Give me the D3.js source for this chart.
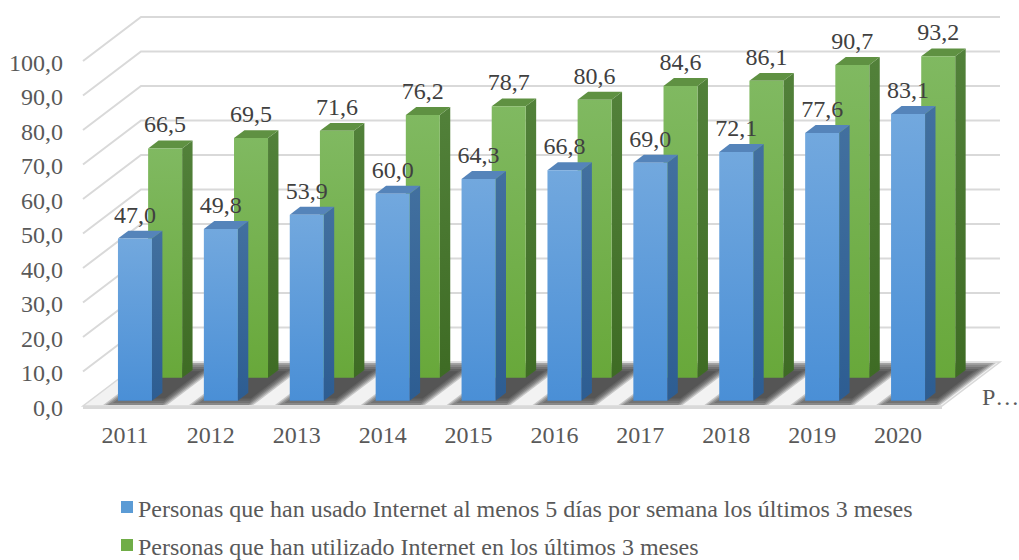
<!DOCTYPE html>
<html>
<head>
<meta charset="utf-8">
<script src="https://cdn.jsdelivr.net/npm/d3@7"></script>
<style>
  body { margin: 0; background: #fff; }
</style>
</head>
<body>
<svg id="chart" width="1019" height="560" viewBox="0 0 1019 560" font-family="Liberation Serif, DejaVu Serif, serif"></svg>
<script>
// chart data
const years = ["2011", "2012", "2013", "2014", "2015", "2016", "2017", "2018", "2019", "2020"];
const usado5dias = [47.0, 49.8, 53.9, 60.0, 64.3, 66.8, 69.0, 72.1, 77.6, 83.1];
const utilizado3meses = [66.5, 69.5, 71.6, 76.2, 78.7, 80.6, 84.6, 86.1, 90.7, 93.2];
const seriesNames = [
  "Personas que han usado Internet al menos 5 días por semana los últimos 3 meses",
  "Personas que han utilizado Internet en los últimos 3 meses"
];
const yTicks = [0, 10, 20, 30, 40, 50, 60, 70, 80, 90, 100];

const FONT = "'Liberation Serif', 'DejaVu Serif', serif";
const FS = 24;
const svg = d3.select("#chart");
const fmt = (v) => v.toFixed(1).replace(".", ",");

// front plane scales + oblique depth offset
const x = d3.scaleBand().domain(years).range([83, 942]);
const y = d3.scaleLinear().domain([0, 100]).range([406, 61]);
const DX = 58, DY = 44;
const P = (px, v, t) => [px + t * DX, y(v) - t * DY];

const series = [
  { name: seriesNames[0], values: usado5dias, t0: 0.12, t1: 0.30,
    front: ["#72a8de", "#4a8fd6"], side: ["#42709f", "#2d5d92"], top: "#5584ba", key: "#5b9bd5" },
  { name: seriesNames[1], values: utilizado3meses, t0: 0.64, t1: 0.82,
    front: ["#80b961", "#68a83a"], side: ["#52813a", "#3e6b24"], top: "#5f9142", key: "#70ad47" }
];
const barOff = 28, barW = 34;

const defs = svg.append("defs");
series.forEach((s, i) => {
  const gf = defs.append("linearGradient").attr("id", "front" + i)
    .attr("x1", 0).attr("y1", 0).attr("x2", 0).attr("y2", 1);
  gf.append("stop").attr("offset", "0%").attr("stop-color", s.front[0]);
  gf.append("stop").attr("offset", "100%").attr("stop-color", s.front[1]);
  const gs = defs.append("linearGradient").attr("id", "side" + i)
    .attr("x1", 0).attr("y1", 0).attr("x2", 0).attr("y2", 1);
  gs.append("stop").attr("offset", "0%").attr("stop-color", s.side[0]);
  gs.append("stop").attr("offset", "100%").attr("stop-color", s.side[1]);
});

const poly = (pts) => "M" + pts.map((p) => p.join(",")).join("L") + "Z";

// walls: gridlines on back wall and left side wall
const grid = svg.append("g").attr("stroke", "#d9d9d9").attr("stroke-width", 2).attr("fill", "none");
const x0 = x.range()[0], x1 = x.range()[1];
yTicks.filter((v) => v > 0).forEach((v) => {
  const a = P(x0, v, 0), b = P(x0, v, 1), c = P(x1, v, 1);
  grid.append("path").attr("d", `M${a}L${b}L${c}`);
});

// floor plate
const fl = [P(x0, 0, 0), P(x1, 0, 0), P(x1, 0, 1), P(x0, 0, 1)];
svg.append("path")
  .attr("d", poly([fl[0], fl[1], [fl[1][0], fl[1][1] + 3], [fl[0][0], fl[0][1] + 3]]))
  .attr("fill", "#d9d9d9");
svg.append("path").attr("d", poly(fl)).attr("fill", "#f2f2f2").attr("stroke", "#d9d9d9").attr("stroke-width", 1.5);

// shadows cast on the floor: stacked translucent layers give a soft edge
const shadows = svg.append("g");
const layers = d3.range(6);
years.forEach((yr) => {
  layers.forEach((k) => {
    const e = 7 - k * 2.2;            // horizontal inset/outset in px
    const dt = (7 - k * 2.2) / DY;    // depth inset/outset
    const l = x(yr) + barOff - 2 - e, r = x(yr) + barOff + barW + 14 + e;
    const ta = Math.max(0.02, 0.08 - dt), tb = Math.min(0.98, 0.88 + dt);
    shadows.append("path")
      .attr("d", poly([P(l, 0, ta), P(r, 0, ta), P(r, 0, tb), P(l, 0, tb)]))
      .attr("fill", "#2b2b2b").attr("fill-opacity", 0.22);
  });
});

// bars: back row (green) first, then front row (blue)
[1, 0].forEach((si) => {
  const s = series[si];
  const g = svg.append("g");
  years.forEach((yr, i) => {
    const v = s.values[i];
    const l = x(yr) + barOff, r = l + barW;
    const fTL = P(l, v, s.t0), fTR = P(r, v, s.t0), fBR = P(r, 0, s.t0), fBL = P(l, 0, s.t0);
    const bTL = P(l, v, s.t1), bTR = P(r, v, s.t1), bBR = P(r, 0, s.t1);
    g.append("path").attr("d", poly([fTR, bTR, bBR, fBR])).attr("fill", `url(#side${si})`);
    g.append("path").attr("d", poly([fTL, fTR, bTR, bTL])).attr("fill", s.top);
    g.append("path").attr("d", poly([fTL, fTR, fBR, fBL])).attr("fill", `url(#front${si})`);
  });
});

// data labels
const labels = svg.append("g").attr("text-anchor", "middle");
series.forEach((s) => {
  years.forEach((yr, i) => {
    const v = s.values[i];
    const p = P(x(yr) + barOff + barW / 2, v, s.t0);
    labels.append("text").attr("x", p[0]).attr("y", p[1] - 16)
      .attr("font-family", FONT).attr("font-size", FS).attr("fill", "#404040").text(fmt(v));
  });
});

// value axis labels
svg.append("g").attr("text-anchor", "end")
  .selectAll("text").data(yTicks).join("text")
  .attr("font-family", FONT).attr("font-size", FS).attr("fill", "#595959")
  .attr("x", 63).attr("y", (d) => y(d) + 9.5).text(fmt);

// category axis labels
svg.append("g").attr("text-anchor", "middle")
  .selectAll("text").data(years).join("text")
  .attr("font-family", FONT).attr("font-size", FS).attr("fill", "#595959")
  .attr("x", (d) => x(d) + x.bandwidth() / 2 - 1).attr("y", 443).text((d) => d);

// series (depth) axis label, truncated as in the original
svg.append("text").attr("x", 982).attr("y", 405)
  .attr("font-family", FONT).attr("font-size", FS).attr("fill", "#595959").text("P…");

// legend
const legend = svg.append("g");
series.forEach((s, i) => {
  const base = 517 + i * 38;
  legend.append("rect").attr("x", 121).attr("y", base - 16).attr("width", 12).attr("height", 12).attr("fill", s.key);
  legend.append("text").attr("x", 138).attr("y", base)
    .attr("font-family", FONT).attr("font-size", FS).attr("fill", "#595959").text(s.name);
});
</script>
</body>
</html>
